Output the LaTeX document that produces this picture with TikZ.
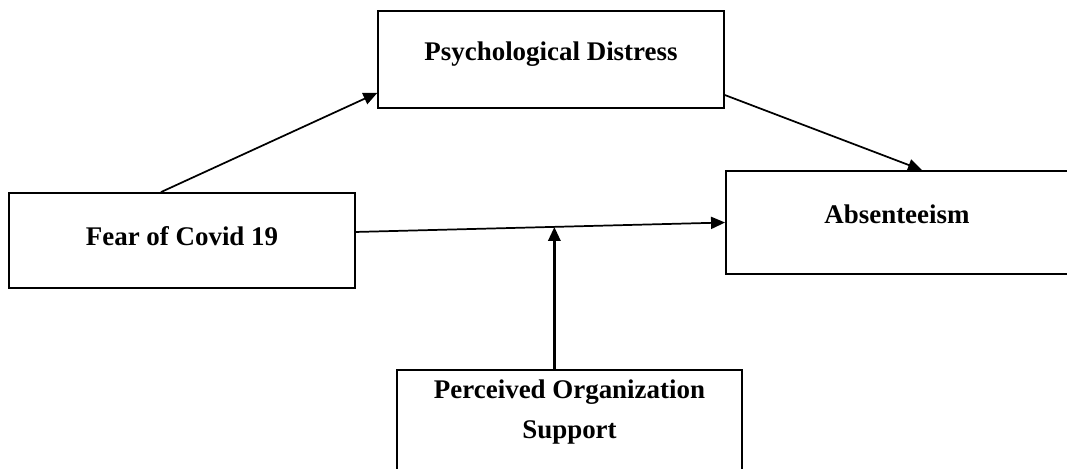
\documentclass[tikz,border=0pt]{standalone}
\usepackage{fontspec}
\setmainfont{Liberation Serif}
\usetikzlibrary{arrows.meta}
\tikzset{
  varbox/.style={draw, line width=1.4pt, inner sep=0pt, minimum width=259pt,
    font=\fontsize{20.2}{30}\selectfont\bfseries, align=center},
  path/.style={line width=1.3pt, ->}
}
\begin{document}
\begin{tikzpicture}[x=0.75pt, y=-0.75pt, >={Triangle[length=10.5pt, width=9pt]}]
\useasboundingbox (0,0) rectangle (1067,468);
\node[varbox, text height=36.75pt, text depth=36pt] (distress) at (551,59.5) {Psychological Distress};
\node[varbox, text height=39pt, text depth=32.25pt] (fear) at (182,240.5) {Fear of Covid 19};
\node[varbox, minimum width=256.5pt, text height=39pt, text depth=38.25pt] (absent) at (897,222.5) {Absenteeism};
\node[varbox, anchor=north, inner ysep=7.5pt, text depth=80pt] (support) at (569.5,369) {Perceived Organization\\Support};
\draw[path] ([xshift=-15.75pt]fear.north) -- ([yshift=-25pt]distress.west);
\draw[path] ([yshift=10.5pt]distress.south east) -- ([xshift=18.75pt]absent.north);
\draw[path] ([yshift=6.4pt]fear.east) -- coordinate[pos=0.538] (joint) (absent.west);
\draw[line width=2.2pt, ->] (support.north -| joint) -- (joint);
\end{tikzpicture}
\end{document}
